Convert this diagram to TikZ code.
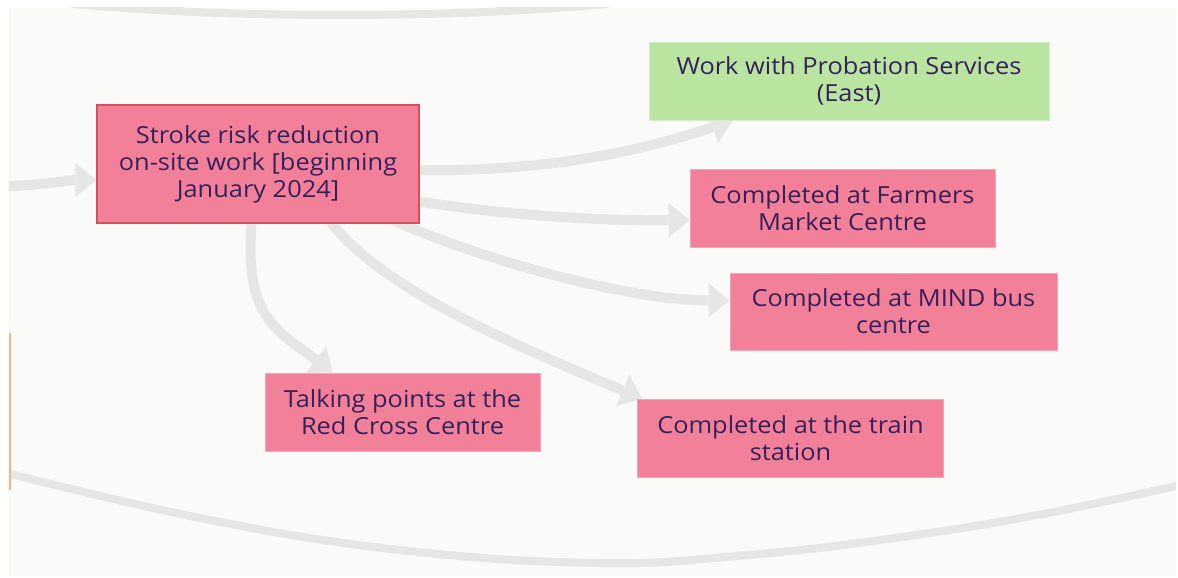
\documentclass[tikz,border=0pt]{standalone}
\usepackage{fontspec}
\setmainfont{Open Sans}[FakeStretch=1.08]
\usetikzlibrary{arrows.meta}

\definecolor{paper}{HTML}{FAFAF8}
\definecolor{trackgray}{HTML}{E6E6E4}
\definecolor{pinkfill}{HTML}{F28098}
\definecolor{pinkedge}{HTML}{F5A6B7}
\definecolor{keyedge}{HTML}{D2505C}
\definecolor{greenfill}{HTML}{B9E5A0}
\definecolor{greenedge}{HTML}{D2EEC2}
\definecolor{ink}{HTML}{36205A}
\definecolor{marker}{HTML}{F7B27F}

\pgfdeclarelayer{backdrop}
\pgfdeclarelayer{links}
\pgfsetlayers{backdrop,links,main}

\begin{document}
\begin{tikzpicture}[x=1pt,y=-1pt,
  card/.style={draw=pinkedge, line width=0.8pt, fill=pinkfill, text=ink,
    inner sep=0pt, align=center, font=\fontsize{23.5}{27}\selectfont},
  keycard/.style={card, draw=keyedge, line width=1.2pt},
  goalcard/.style={card, draw=greenedge, fill=greenfill},
  flow/.style={draw=trackgray, line width=10pt,
    -{Triangle[width=34pt,length=21pt,line width=0pt]}},
  track/.style={draw=trackgray, line width=8pt}]

\useasboundingbox (0,0) rectangle (1178,578);

% boxes
\node[keycard, minimum width=322pt, minimum height=118pt] (main) at (258,164)
  {Stroke risk reduction\\on-site work [beginning\\January 2024]};
\node[goalcard, minimum width=400pt, minimum height=78pt] (green) at (849,81)
  {Work with Probation Services\\(East)};
\node[card, minimum width=305pt, minimum height=78pt] (farmers) at (842.5,208)
  {Completed at Farmers\\Market Centre};
\node[card, minimum width=327pt, minimum height=77pt] (mind) at (893.5,311.5)
  {Completed at MIND bus\\centre};
\node[card, minimum width=275pt, minimum height=78pt] (redcross) at (402.5,412)
  {Talking points at the\\Red Cross Centre};
\node[card, minimum width=306pt, minimum height=78pt] (train) at (790.5,438)
  {Completed at the train\\station};

\coordinate (inlet) at (9,186);

% paper and passing tracks
\begin{pgfonlayer}{backdrop}
  \fill[white] (0,0) rectangle (1178,578);
  \fill[paper] (9,8) rectangle (1176,576);
  \begin{scope}
    \clip (9,8) rectangle (1176,576);
    \draw[track] (40,0) .. controls (200,20) and (480,20) .. (640,0);
    \draw[track] plot[smooth, tension=0.7] coordinates
      {(-5,470) (200,518) (400,550) (600,563) (748,555) (895,538) (1043,514) (1185,484)};
  \end{scope}
  \draw[marker, line width=1.5pt] (9.8,333) -- (9.8,490);
\end{pgfonlayer}

% connectors
\begin{pgfonlayer}{links}
  \draw[flow] (inlet) .. controls (45,185) and (70,180) .. ([yshift=-16pt]main.west);
  \draw[flow] ([xshift=-10pt,yshift=-6pt]main.east)
    .. controls (520,172) and (619,159) .. ([xshift=84pt]green.south west);
  \draw[flow] ([xshift=-10pt,yshift=-36pt]main.east)
    .. controls (500,215) and (600,221) .. ([yshift=-12pt]farmers.west);
  \draw[flow] ([xshift=-28pt,yshift=4pt]main.south east)
    .. controls (470,255) and (620,300) .. ([yshift=11pt]mind.west);
  \draw[flow] ([xshift=70pt,yshift=5pt]main.south)
    .. controls (380,290) and (522,348) .. ([xshift=5pt]train.north west);
  \draw[flow] ([xshift=-6pt,yshift=5pt]main.south)
    .. controls (243,318) and (277,330) .. ([xshift=68pt]redcross.north west);
\end{pgfonlayer}
\end{tikzpicture}
\end{document}
